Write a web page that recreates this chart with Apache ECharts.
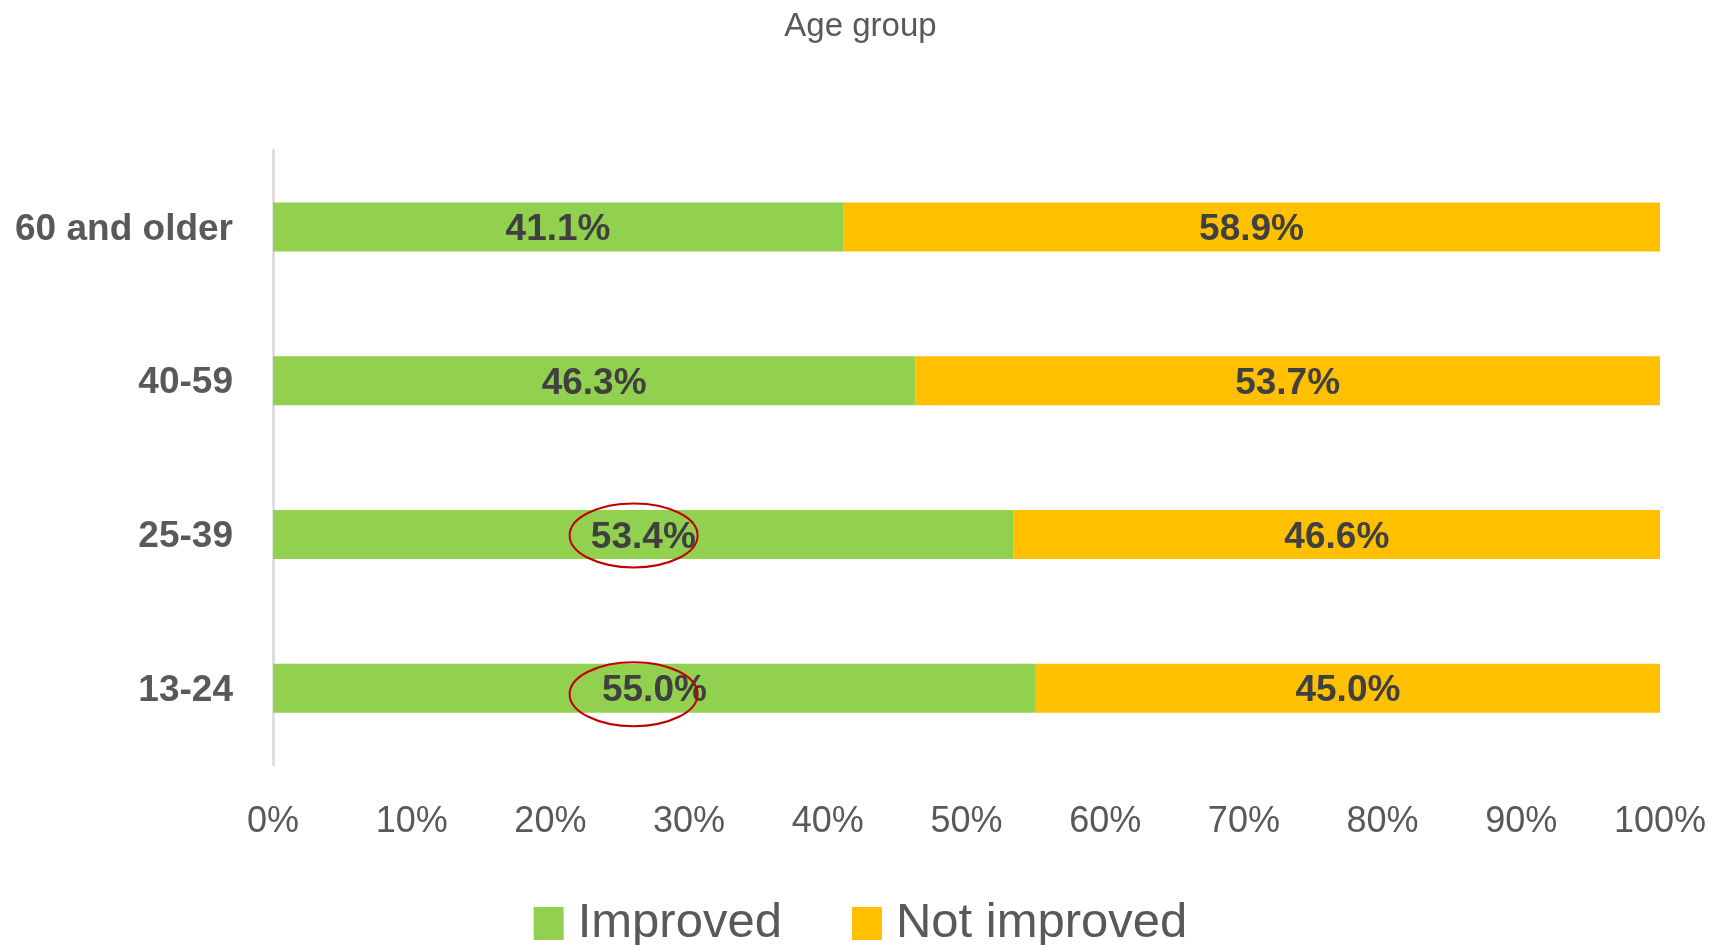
<!DOCTYPE html>
<html>
<head>
<meta charset="utf-8">
<script src="https://cdn.jsdelivr.net/npm/echarts@6/dist/echarts.min.js"></script>
<style>
  html, body { margin: 0; padding: 0; background: #fff; }
  #chart { width: 1721px; height: 945px; }
</style>
</head>
<body>
<div id="chart"></div>
<script>
// Share of respondents by age group (percent)
const categories = ['13-24', '25-39', '40-59', '60 and older'];
const improved = [55.0, 53.4, 46.3, 41.1];
const notImproved = [45.0, 46.6, 53.7, 58.9];
const seriesNames = ['Improved', 'Not improved'];
const xTicks = [0, 10, 20, 30, 40, 50, 60, 70, 80, 90, 100];

// Groups whose "Improved" share is circled, and where the circle sits on the value axis
const circledGroups = ['25-39', '13-24'];
const circleAt = 26;

const FONT = '"Liberation Sans", Arial, sans-serif';
const chart = echarts.init(document.getElementById('chart'));

const labelStyle = {
  show: true,
  position: 'inside',
  offset: [0, 3],
  formatter: p => p.value.toFixed(1) + '%',
  color: '#404040',
  fontFamily: FONT,
  fontWeight: 'bold',
  fontSize: 37
};

chart.setOption({
  animation: false,
  title: {
    text: 'Age group',
    left: 'center',
    top: 5,
    textStyle: { color: '#595959', fontFamily: FONT, fontWeight: 'normal', fontSize: 33 }
  },
  legend: {
    data: seriesNames,
    top: 894,
    left: 'center',
    itemWidth: 30,
    itemHeight: 33,
    itemGap: 70,
    icon: 'rect',
    textStyle: { color: '#595959', fontFamily: FONT, fontSize: 49, padding: [0, 0, 0, 9] }
  },
  grid: { left: 273, right: 61, top: 150, bottom: 180, containLabel: false },
  xAxis: {
    type: 'value',
    min: 0,
    max: 100,
    interval: 10,
    axisLine: { show: false },
    axisTick: { show: false },
    splitLine: { show: false },
    axisLabel: {
      margin: 39,
      color: '#595959',
      fontFamily: FONT,
      fontSize: 36,
      formatter: v => (xTicks.includes(v) ? v + '%' : '')
    }
  },
  yAxis: {
    type: 'category',
    data: categories,
    axisLine: { show: true, lineStyle: { color: '#D9D9D9', width: 2.5 } },
    axisTick: { show: false },
    axisLabel: {
      margin: 40,
      formatter: v => '{c|' + v + '}',
      rich: {
        c: {
          color: '#595959',
          fontFamily: FONT,
          fontWeight: 'bold',
          fontSize: 37,
          padding: [5, 0, 0, 0]
        }
      }
    }
  },
  series: [
    {
      name: seriesNames[0],
      type: 'bar',
      stack: 'total',
      barWidth: 49,
      data: improved,
      itemStyle: { color: '#92D050' },
      label: labelStyle
    },
    {
      name: seriesNames[1],
      type: 'bar',
      stack: 'total',
      barWidth: 49,
      data: notImproved,
      itemStyle: { color: '#FFC000' },
      label: labelStyle
    }
  ]
});

// Red rings around the highlighted values
const rings = circledGroups.map((g, i) => {
  const [cx, cy] = chart.convertToPixel({ gridIndex: 0 }, [circleAt, g]);
  return {
    type: 'ellipse',
    shape: { cx: cx, cy: cy + (i === 0 ? 1 : 6), rx: 64, ry: 32 },
    style: { fill: 'none', stroke: '#C00000', lineWidth: 2 },
    z: 100
  };
});
chart.setOption({ graphic: rings });
</script>
</body>
</html>
